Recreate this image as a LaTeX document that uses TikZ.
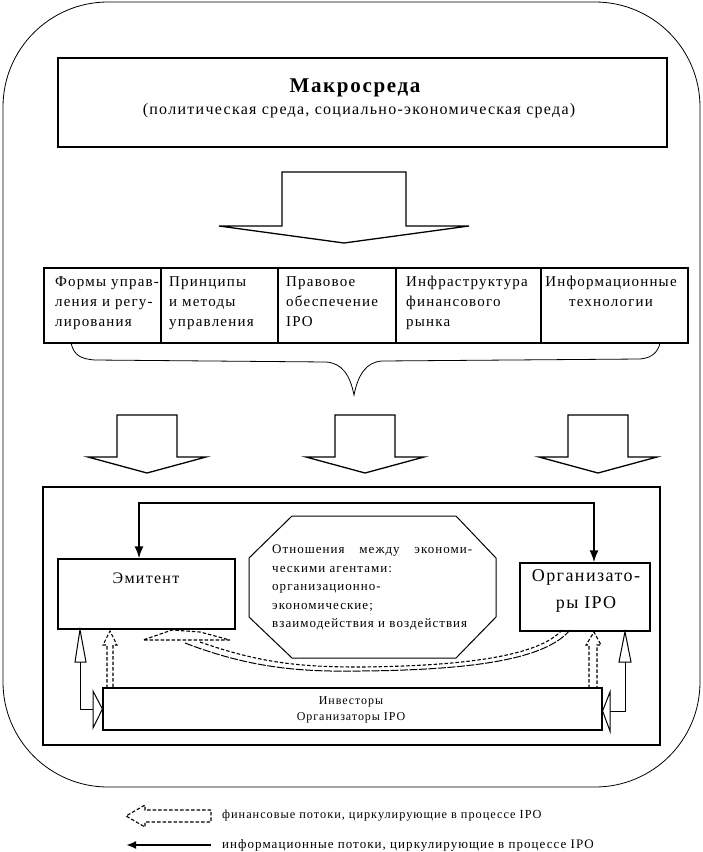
\documentclass[tikz,border=0pt]{standalone}
\usepackage{fontspec}
\setmainfont{Liberation Serif}[LetterSpace=8]
\usetikzlibrary{arrows.meta}
\begin{document}
\begin{tikzpicture}[x=1pt,y=-1pt, line join=miter,
  box/.style={draw, line width=1.2pt, inner sep=0pt, fill=white},
  txt/.style={inner sep=0pt, font=\fontsize{15}{20}\selectfont},
  blockarrow/.style={draw, line width=1.3pt, fill=white},
  infoarr/.style={line width=2pt, {Latex[length=12pt,width=9pt]}-{Latex[length=12pt,width=9pt]}},
  fin/.style={line width=1.1pt, dash pattern=on 3.5pt off 2pt},
  openarr/.style={draw, line width=1pt, fill=white},
  thinl/.style={line width=1pt},
]
\useasboundingbox (0,0) rectangle (703,852);
% outer frame
\draw[line width=0.8pt, rounded corners=105pt] (3,2) rectangle (700,787);
% macro box
\node[box, minimum width=609pt, minimum height=89pt] (macro) at (362.5,102.5) {};
\node[txt, font=\bfseries\fontsize{21}{24}\selectfont] (macrot) at (355,88) {Макросреда};
\node[txt, font=\fontsize{16}{20}\selectfont] (macros) at (359,111) {(политическая среда, социально-экономическая среда)};
% big arrow
\draw[blockarrow] (282,172) -- (406,172) -- (406,226) -- (469,226) -- (344,243) -- (219,226) -- (282,226) -- cycle;
% row of boxes
\node[box, minimum width=117pt, minimum height=75pt] (b1) at (102.5,305.5) {};
\node[box, minimum width=117pt, minimum height=75pt] (b2) at (219.5,305.5) {};
\node[box, minimum width=118pt, minimum height=75pt] (b3) at (337,305.5) {};
\node[box, minimum width=145pt, minimum height=75pt] (b4) at (468.5,305.5) {};
\node[box, minimum width=147pt, minimum height=75pt] (b5) at (614.5,305.5) {};
\node[txt, anchor=north west, align=left] (t1) at (55,276) {Формы управ-\\ления и регу-\\лирования};
\node[txt, anchor=north west, align=left] (t2) at (169,276) {Принципы\\и методы\\управления};
\node[txt, anchor=north west, align=left] (t3) at (286,276) {Правовое\\обеспечение\\IPO};
\node[txt, anchor=north west, align=left] (t4) at (406,276) {Инфраструктура\\финансового\\рынка};
\node[txt, anchor=north, align=center] (t5) at (611,276) {Информационные\\технологии};
% brace
\draw[line width=0.8pt] (71,343) .. controls (74,355) and (80,359) .. (95,360) -- (326,362) .. controls (342,363) and (350,375) .. (354,395) .. controls (358,375) and (366,362) .. (382,361) -- (640,359) .. controls (652,358) and (658,352) .. (660,343);
% three arrows
\foreach \c in {147,365,598}{
  \draw[blockarrow] ({\c-30},415) -- ({\c+30},415) -- ({\c+30},457) -- ({\c+59},457) -- (\c,473) -- ({\c-59},457) -- ({\c-30},457) -- cycle;
}
% inner box
\node[box, minimum width=617pt, minimum height=258pt] (inner) at (351.5,616) {};
% Emitent
\node[box, minimum width=177pt, minimum height=70pt] (emit) at (146.5,594) {};
\node[txt, font=\fontsize{16}{20}\selectfont] (emitt) at (146,578) {Эмитент};
% octagon
\draw[line width=1pt, fill=white] (292,516) -- (456,516) -- (496,558) -- (496,617) -- (456,658) -- (292,658) -- (249,617) -- (249,558) -- cycle;
\node[txt, anchor=north west, align=left, font=\fontsize{13}{18.5}\selectfont] (octt) at (272,545) {\makebox[200pt][s]{Отношения между экономи-}\\ческими агентами:\\организационно-\\экономические;\\взаимодействия и воздействия};
% Organizers
\node[box, minimum width=130pt, minimum height=68pt] (org) at (585,597) {};
\node[txt, font=\fontsize{18}{27}\selectfont, align=center] (orgt) at (586,591) {Организато-\\ры IPO};
% investors bar
\node[box, minimum width=499pt, minimum height=42pt] (bar) at (352.5,709) {};
\node[txt, font=\fontsize{12}{16}\selectfont, align=center] (bart) at (351,710) {Инвесторы\\Организаторы IPO};
% information arrow top
\coordinate (tl) at (139,503);
\coordinate (tr) at (594,503);
\draw[infoarr] (emit.north -| tl) -- (tl) -- (tr) -- (org.north -| tr);
% open arrows left
\coordinate (lc) at (80,709);
\draw[thinl] (93,709) -- (lc) -- (80,662);
\draw[openarr] (75,662) -- (emit.south -| lc) -- (86,662) -- cycle;
\draw[openarr] (93,691) -- (bar.west |- lc) -- (93,728) -- cycle;
% open arrows right
\coordinate (rc) at (625,711);
\draw[thinl] (610,711) -- (rc) -- (625,662);
\draw[openarr] (619,662) -- (org.south -| rc) -- (631,662) -- cycle;
\draw[openarr] (610,692) -- (bar.east |- rc) -- (610,731) -- cycle;
% dashed financial arrows
\draw[fin] (107,688) -- (107,645) -- (103,645) -- (110,631) -- (117,645) -- (113,645) -- (113,688);
\draw[fin] (589,688) -- (589,645) -- (586,645) -- (594,632) -- (601,645) -- (597,645) -- (597,688);
% curved dashed arrow
\draw[fin] (230,640) -- (143,640) -- (172,630) -- (200,632) -- (230,640);
\draw[line width=1pt, dash pattern=on 8pt off 1.5pt] (185,643) .. controls (250,668) and (300,672) .. (360,671) .. controls (470,670) and (545,660) .. (570,630);
\draw[fin] (200,642) .. controls (260,663) and (300,667) .. (360,667) .. controls (470,666) and (540,655) .. (562,630);
% legend
\draw[fin] (211,810) -- (145,810) -- (145,805) -- (126,816) -- (145,827) -- (145,822) -- (211,822) -- cycle;
\node[txt, anchor=west, font=\fontsize{12.3}{13}\selectfont] (leg1) at (222,816) {финансовые потоки, циркулирующие в процессе IPO};
\coordinate (la) at (211,845);
\coordinate (lb) at (126,845);
\draw[line width=2pt, -{Latex[length=10pt,width=8pt]}] (la) -- (lb);
\node[txt, anchor=west, font=\fontsize{13}{14}\selectfont] (leg2) at (222,845) {информационные потоки, циркулирующие в процессе IPO};
\end{tikzpicture}
\end{document}
